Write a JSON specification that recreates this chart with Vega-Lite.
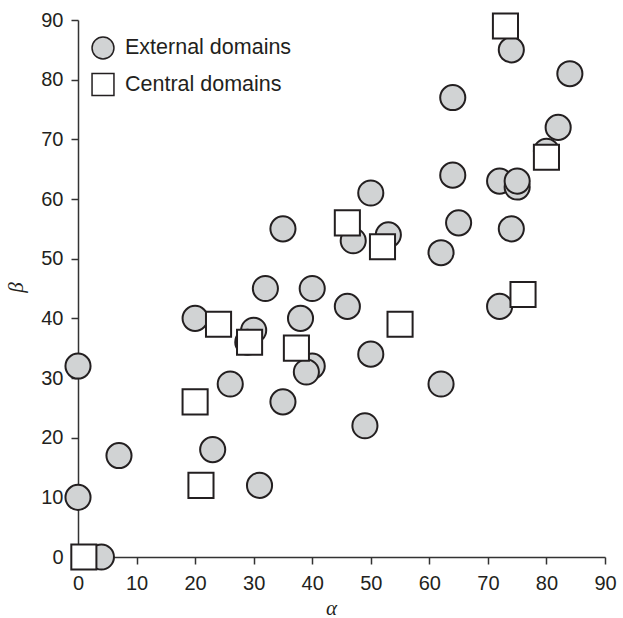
{
  "$schema": "https://vega.github.io/schema/vega-lite/v6.json",
  "autosize": "none",
  "width": 527,
  "height": 537,
  "padding": {"left": 78, "top": 20, "right": 18, "bottom": 61},
  "background": "white",
  "config": {
    "view": {"stroke": null},
    "font": "Liberation Sans",
    "axis": {
      "grid": false,
      "domainColor": "#333333",
      "domainWidth": 1.5,
      "tickColor": "#333333",
      "tickWidth": 1.5,
      "tickSize": 7,
      "labelFont": "Liberation Sans",
      "labelFontSize": 20,
      "labelColor": "#231f20",
      "titleFont": "Liberation Serif",
      "titleFontStyle": "italic",
      "titleFontWeight": "normal",
      "titleFontSize": 21,
      "titleColor": "#231f20"
    }
  },
  "data": {
    "values": [
      {"a": 0, "b": 32, "type": "External domains"},
      {"a": 0, "b": 10, "type": "External domains"},
      {"a": 4, "b": 0, "type": "External domains"},
      {"a": 7, "b": 17, "type": "External domains"},
      {"a": 20, "b": 40, "type": "External domains"},
      {"a": 30, "b": 38, "type": "External domains"},
      {"a": 29, "b": 36, "type": "External domains"},
      {"a": 26, "b": 29, "type": "External domains"},
      {"a": 23, "b": 18, "type": "External domains"},
      {"a": 31, "b": 12, "type": "External domains"},
      {"a": 35, "b": 26, "type": "External domains"},
      {"a": 40, "b": 32, "type": "External domains"},
      {"a": 39, "b": 31, "type": "External domains"},
      {"a": 38, "b": 40, "type": "External domains"},
      {"a": 32, "b": 45, "type": "External domains"},
      {"a": 40, "b": 45, "type": "External domains"},
      {"a": 35, "b": 55, "type": "External domains"},
      {"a": 74, "b": 85, "type": "External domains"},
      {"a": 84, "b": 81, "type": "External domains"},
      {"a": 64, "b": 77, "type": "External domains"},
      {"a": 82, "b": 72, "type": "External domains"},
      {"a": 80, "b": 68, "type": "External domains"},
      {"a": 64, "b": 64, "type": "External domains"},
      {"a": 72, "b": 63, "type": "External domains"},
      {"a": 75, "b": 62, "type": "External domains"},
      {"a": 75, "b": 63, "type": "External domains"},
      {"a": 50, "b": 61, "type": "External domains"},
      {"a": 47, "b": 53, "type": "External domains"},
      {"a": 53, "b": 54, "type": "External domains"},
      {"a": 65, "b": 56, "type": "External domains"},
      {"a": 74, "b": 55, "type": "External domains"},
      {"a": 62, "b": 51, "type": "External domains"},
      {"a": 46, "b": 42, "type": "External domains"},
      {"a": 72, "b": 42, "type": "External domains"},
      {"a": 50, "b": 34, "type": "External domains"},
      {"a": 62, "b": 29, "type": "External domains"},
      {"a": 49, "b": 22, "type": "External domains"},
      {"a": 1, "b": 0, "type": "Central domains"},
      {"a": 24, "b": 39, "type": "Central domains"},
      {"a": 29.3, "b": 36, "type": "Central domains"},
      {"a": 20, "b": 26, "type": "Central domains"},
      {"a": 21, "b": 12, "type": "Central domains"},
      {"a": 37.3, "b": 35, "type": "Central domains"},
      {"a": 46, "b": 56, "type": "Central domains"},
      {"a": 52, "b": 52, "type": "Central domains"},
      {"a": 55, "b": 39, "type": "Central domains"},
      {"a": 73, "b": 89, "type": "Central domains"},
      {"a": 80, "b": 67, "type": "Central domains"},
      {"a": 76, "b": 44, "type": "Central domains"}
    ]
  },
  "mark": {"type": "point", "filled": true, "size": 630, "stroke": "#231f20", "strokeWidth": 2, "opacity": 1},
  "encoding": {
    "x": {
      "field": "a", "type": "quantitative",
      "scale": {"domain": [0, 90], "nice": false, "zero": false},
      "axis": {"values": [0, 10, 20, 30, 40, 50, 60, 70, 80, 90], "title": "α", "labelPadding": 9, "titleX": 253, "titleY": 51, "titleBaseline": "middle", "labelFlush": false}
    },
    "y": {
      "field": "b", "type": "quantitative",
      "scale": {"domain": [0, 90], "nice": false, "zero": false},
      "axis": {"values": [0, 10, 20, 30, 40, 50, 60, 70, 80, 90], "title": "β", "labelPadding": 8, "titleX": -62, "titleY": 267, "titleBaseline": "middle", "labelFlush": false}
    },
    "shape": {
      "field": "type", "type": "nominal",
      "scale": {"domain": ["External domains", "Central domains"], "range": ["circle", "square"]},
      "legend": {"title": null, "orient": "none", "legendX": 13, "legendY": 16, "padding": 0, "symbolSize": 480, "labelFontSize": 21.5, "labelFont": "Liberation Sans", "labelColor": "#231f20", "labelOffset": 10, "rowPadding": 8.5, "labelLimit": 400,
        "encode": {"symbols": {"update": {"stroke": {"value": "#231f20"}, "strokeWidth": {"value": 2}}}}}
    },
    "fill": {
      "field": "type", "type": "nominal",
      "scale": {"domain": ["External domains", "Central domains"], "range": ["#d1d3d4", "#ffffff"]},
      "legend": {"title": null, "orient": "none", "legendX": 13, "legendY": 16, "padding": 0, "symbolSize": 480, "labelFontSize": 21.5, "labelFont": "Liberation Sans", "labelColor": "#231f20", "labelOffset": 10, "rowPadding": 8.5, "labelLimit": 400,
        "encode": {"symbols": {"update": {"stroke": {"value": "#231f20"}, "strokeWidth": {"value": 2}}}}}
    }
  }
}
